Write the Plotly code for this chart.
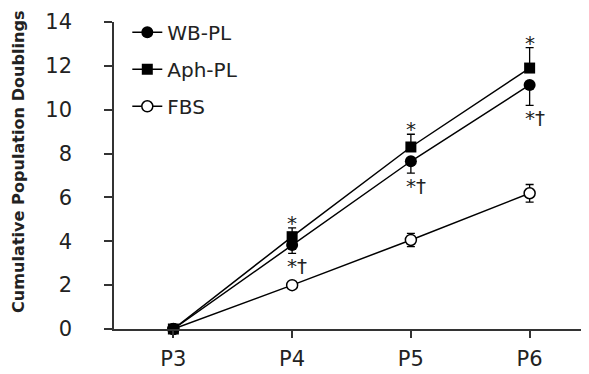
import plotly.graph_objects as go

passages = ["P3", "P4", "P5", "P6"]
wb_pl = [0, 3.83, 7.65, 11.13]
wb_err = [0, 0.38, 0.54, 0.93]
aph_pl = [0, 4.21, 8.30, 11.90]
aph_err = [0, 0.40, 0.58, 0.93]
fbs = [0, 2.0, 4.06, 6.19]
fbs_err = [0, 0.08, 0.30, 0.40]
ytick_vals = [0, 2, 4, 6, 8, 10, 12, 14]
ytitle = "Cumulative Population Doublings"

FONT = "DejaVu Sans"
TXT = "#222"
fig = go.Figure()

fig.add_trace(go.Scatter(
    x=passages, y=fbs, name="FBS", mode="lines+markers",
    line=dict(color="black", width=1.5),
    marker=dict(symbol="circle", size=11, color="white", line=dict(color="black", width=1.5)),
    error_y=dict(type="data", array=fbs_err, color="black", thickness=1.3, width=4),
    legendrank=3, legendgroup="c", cliponaxis=False,
))
fig.add_trace(go.Scatter(
    x=passages, y=wb_pl, name="WB-PL", mode="lines+markers",
    line=dict(color="black", width=1.5),
    marker=dict(symbol="circle", size=12, color="black"),
    error_y=dict(type="data", symmetric=False, array=[0]*4, arrayminus=wb_err, color="black", thickness=1.3, width=4),
    legendrank=1, legendgroup="a", cliponaxis=False,
))
fig.add_trace(go.Scatter(
    x=passages, y=aph_pl, name="Aph-PL", mode="lines+markers",
    line=dict(color="black", width=1.5),
    marker=dict(symbol="square", size=11, color="black"),
    error_y=dict(type="data", symmetric=False, array=aph_err, arrayminus=[0]*4, color="black", thickness=1.3, width=4),
    legendrank=2, legendgroup="b", cliponaxis=False,
))

annotations = []
for i in range(1, 4):
    annotations.append(dict(x=passages[i], y=aph_pl[i] + aph_err[i], text="*", showarrow=False,
                            xanchor="center", yanchor="bottom", yshift=-9,
                            font=dict(family=FONT, size=20, color=TXT)))
    annotations.append(dict(x=passages[i], y=wb_pl[i] - wb_err[i], text="*†", showarrow=False,
                            xanchor="left", yanchor="top", xshift=-7, yshift=1,
                            font=dict(family=FONT, size=20, color=TXT)))
# y-axis title
annotations.append(dict(x=-0.2, y=0.544, xref="paper", yref="paper", text=ytitle, textangle=-90,
                        showarrow=False, xanchor="center", yanchor="middle",
                        font=dict(family=FONT, size=16.1, color=TXT, weight="bold")))

fig.update_layout(
    width=581, height=366,
    margin=dict(l=106, r=0, t=14, b=45),
    paper_bgcolor="white", plot_bgcolor="white",
    font=dict(family=FONT, color=TXT),
    showlegend=True,
    legend=dict(x=0.028, y=1.03, xanchor="left", yanchor="top",
                font=dict(family=FONT, size=20, color=TXT),
                traceorder="grouped", tracegroupgap=8, itemwidth=30,
                bgcolor="rgba(0,0,0,0)"),
    annotations=annotations,
    xaxis=dict(range=[-0.5, 3.5], showline=True, linecolor="#333", linewidth=1.5,
               ticks="outside", ticklen=7, tickcolor="#333", tickwidth=1.5, ticklabelstandoff=3,
               tickfont=dict(family=FONT, size=21, color=TXT), showgrid=False, zeroline=False),
    yaxis=dict(range=[0, 14], tickvals=ytick_vals, showline=True, linecolor="#333", linewidth=1.5,
               ticks="outside", ticklen=8, tickcolor="#333", tickwidth=1.5, ticklabelstandoff=28,
               tickfont=dict(family=FONT, size=21, color=TXT), showgrid=False, zeroline=False),
)

fig.write_html("out.html")
